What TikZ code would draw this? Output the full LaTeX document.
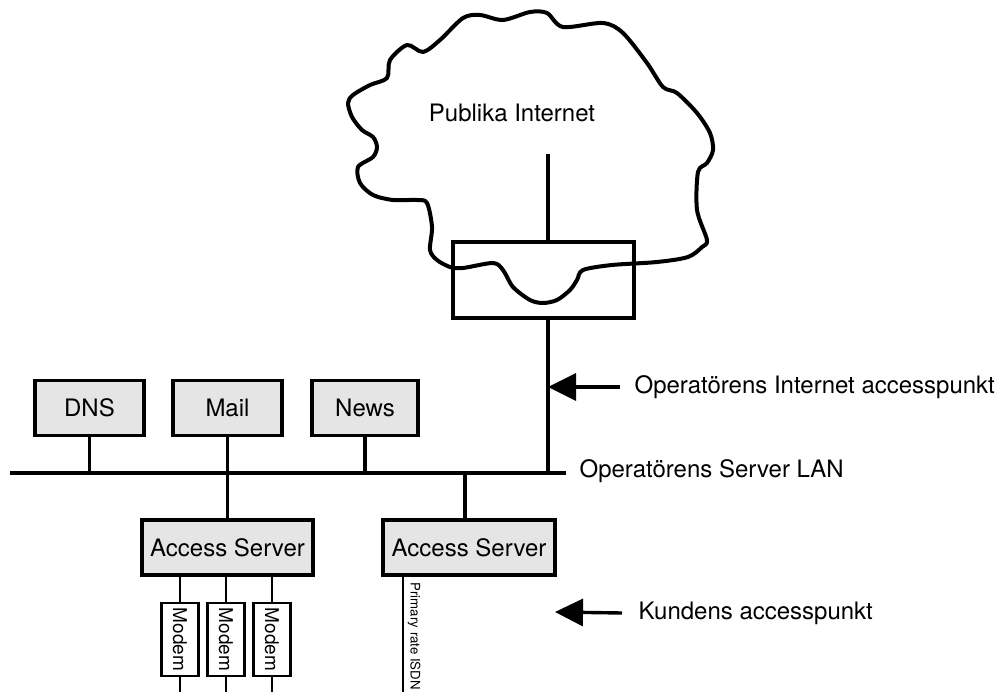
\documentclass[tikz,border=0pt]{standalone}
\usepackage{fontspec}
\setmainfont{TeX Gyre Heros}
\usetikzlibrary{arrows.meta}
\definecolor{boxgray}{gray}{0.9}
\tikzset{
  txt/.style={inner sep=0pt,font=\fontsize{12}{14}\selectfont},
  srvbox/.style={draw,fill=boxgray,line width=1.75pt,minimum height=27.5pt,inner sep=0pt,font=\fontsize{12}{14}\selectfont},
  modem/.style={draw,fill=white,line width=1.1pt,rotate=-90,minimum width=36.5pt,minimum height=18.5pt,inner sep=0pt,font=\fontsize{9.5}{10}\selectfont},
  pil/.style={-{Triangle[length=14pt,width=13.5pt]},line width=1.7pt}
}
\begin{document}
\begin{tikzpicture}[x=0.5pt,y=-0.5pt,line width=1.6pt]
\useasboundingbox (0,0) rectangle (1007,691);
\clip (0,0) rectangle (1007,691);
\path
(10,473) coordinate (lanL)
(566,473) coordinate (lanR)
(548,154) coordinate (inet)
(403,700) coordinate (isdn)
(555,612) coordinate (kp)
(0,700) coordinate (bot)
;
% moln
\draw[line width=2pt,line join=round] plot[smooth cycle,tension=0.5] coordinates {
(387,78) (390,60) (407,45) (423,52) (440,40) (463,18) (480,15) (503,20)
(530,12) (547,13) (563,27) (603,23) (623,33) (647,63) (663,87) (677,93)
(697,113) (710,133) (713,150) (707,163) (698,172) (697,210) (707,240)
(702,247) (688,257) (657,262) (612,265) (583,270) (577,280) (570,290)
(557,300) (543,303) (530,300) (513,287) (503,270) (493,263) (463,268)
(450,267) (437,260) (430,250) (432,227) (427,203) (417,200) (393,200)
(373,195) (360,183) (358,167) (373,157) (377,147) (373,137) (362,130)
(352,117) (348,103) (353,95) (370,85)};
\node[txt] (pub) at (512,113) {Publika Internet};
\node[draw,line width=1.75pt,minimum width=90.5pt,minimum height=38pt,inner sep=0pt] (gw) at (543.5,280) {};
\draw[line width=1.7pt] (inet) -- (inet |- gw.north);
\draw[line width=1.7pt] (inet |- gw.south) -- (inet |- lanL);
% server LAN
\draw[line width=2.2pt] (lanL) -- (lanR);
\node[srvbox,minimum width=54.5pt] (dns) at (89.5,408) {DNS};
\node[srvbox,minimum width=54.5pt] (mail) at (227.5,408) {Mail};
\node[srvbox,minimum width=53pt] (news) at (365,408) {News};
\foreach \n in {dns,mail,news}
\draw (\n.south) -- (\n.south |- lanL);
\node[srvbox,minimum width=85.5pt] (as1) at (227.5,547.5) {Access Server};
\node[srvbox,minimum width=86pt] (as2) at (469,547.5) {Access Server};
\draw (as1.north) -- (as1.north |- lanL);
\draw ([xshift=-2pt]as2.north) -- ([xshift=-2pt]as2.north |- lanL);
\foreach \i/\x in {1/180,2/226,3/272} {
\node[modem] (m\i) at (\x,639.5) {Modem};
\draw[line width=1.1pt] (m\i |- as1.south) -- (m\i);
\draw[line width=1.1pt] (m\i) -- (m\i |- bot);
}
\draw[line width=1.1pt] (isdn |- as2.south) -- (isdn);
\node[rotate=-90,anchor=west,inner sep=0pt,font=\fontsize{6.6}{8}\selectfont] (isdnl) at (414,581) {Primary rate ISDN};
% etiketter
\node[txt,anchor=west] (opi) at (633,387) {Operatörens Internet accesspunkt};
\draw[pil] ([xshift=-6.5pt]opi.west) -- (opi.west -| inet);
\node[txt,anchor=west] (lan) at (578,471) {Operatörens Server LAN};
\node[txt,anchor=west] (kund) at (637,613) {Kundens accesspunkt};
\draw[pil] ([xshift=-7.5pt]kund.west) -- (kp);
\end{tikzpicture}
\end{document}
